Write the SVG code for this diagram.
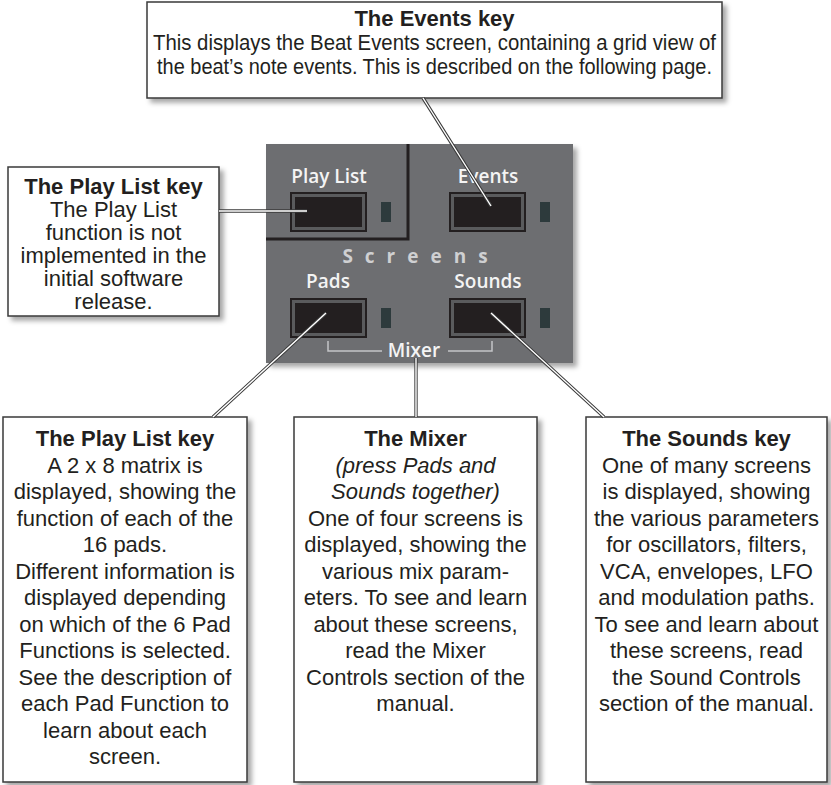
<svg xmlns="http://www.w3.org/2000/svg" width="831" height="785" viewBox="0 0 831 785">
<defs>
<filter id="sh" x="-10%" y="-10%" width="130%" height="130%">
<feDropShadow dx="4" dy="4" stdDeviation="2.5" flood-color="#000" flood-opacity="0.35"/>
</filter>
<style>
.box{fill:#fff;stroke:#3a3a3a;stroke-width:1.5;filter:url(#sh)}
.t{font-family:"Liberation Sans",Arial,sans-serif;font-size:22px;fill:#231f20;text-anchor:middle}
.b{font-weight:bold}
.i{font-style:italic}
.pl{font-family:"Open Sans","DejaVu Sans",sans-serif;font-weight:600;font-size:19px;fill:#f4f4f4;text-anchor:middle}
.btnO{fill:#231f20}
.btnM{fill:#5a5b5d}
.btnI{fill:#231f20}
.led{fill:#2d3a3c}
.cO{stroke:#3a3a3a;stroke-width:3.3;fill:none;stroke-linecap:butt}
.cI{stroke:#fff;stroke-width:1.4;fill:none;stroke-linecap:butt}
</style>
</defs>

<g id="panel">
<rect x="266" y="144" width="307" height="219" fill="#6d6e71" filter="url(#sh)"/>
<path d="M266,239 H408 V144" fill="none" stroke="#231f20" stroke-width="3"/>
<text class="pl" x="329" y="183">Play List</text>
<text class="pl" x="488" y="183">Events</text>
<text class="pl" x="328" y="288">Pads</text>
<text class="pl" x="488" y="288">Sounds</text>
<text class="pl" x="421" y="263" style="fill:#cfd0d2;font-weight:700;font-size:19px;letter-spacing:12px">Screens</text>
<text class="pl" x="414" y="357">Mixer</text>
<path d="M328,341 V351 H382 M448,351 H492 V341" fill="none" stroke="#c4c5c7" stroke-width="1.5"/>
<g id="btn-playlist">
<rect class="btnO" x="290" y="192" width="77" height="40"/>
<rect class="btnM" x="292" y="194" width="73" height="36"/>
<rect class="btnI" x="295" y="197" width="67" height="30"/>
<rect class="led" x="381" y="202" width="10" height="20"/>
</g>
<g id="btn-events">
<rect class="btnO" x="449" y="192" width="77" height="40"/>
<rect class="btnM" x="451" y="194" width="73" height="36"/>
<rect class="btnI" x="454" y="197" width="67" height="30"/>
<rect class="led" x="540" y="202" width="10" height="20"/>
</g>
<g id="btn-pads">
<rect class="btnO" x="290" y="298" width="77" height="40"/>
<rect class="btnM" x="292" y="300" width="73" height="36"/>
<rect class="btnI" x="295" y="303" width="67" height="30"/>
<rect class="led" x="381" y="308" width="10" height="20"/>
</g>
<g id="btn-sounds">
<rect class="btnO" x="449" y="298" width="77" height="40"/>
<rect class="btnM" x="451" y="300" width="73" height="36"/>
<rect class="btnI" x="454" y="303" width="67" height="30"/>
<rect class="led" x="540" y="308" width="10" height="20"/>
</g>
</g>

<g id="events-key">
<rect class="box" x="147" y="2" width="575" height="96"/>
<text class="t b" x="434.5" y="26">The Events key</text>
<text class="t" x="434.5" y="50" textLength="563" lengthAdjust="spacingAndGlyphs">This displays the Beat Events screen, containing a grid view of</text>
<text class="t" x="434.5" y="74" textLength="555" lengthAdjust="spacingAndGlyphs">the beat’s note events. This is described on the following page.</text>
</g>

<g id="playlist-key">
<rect class="box" x="8" y="167" width="211" height="149"/>
<text class="t b" x="113.5" y="194">The Play List key</text>
<text class="t" x="113.5" y="217">The Play List</text>
<text class="t" x="113.5" y="240">function is not</text>
<text class="t" x="113.5" y="263">implemented in the</text>
<text class="t" x="113.5" y="286">initial software</text>
<text class="t" x="113.5" y="309">release.</text>
</g>

<g id="pads-key">
<rect class="box" x="3" y="417" width="244" height="365"/>
<text class="t b" x="125" y="446">The Play List key</text>
<text class="t" x="125" y="472.5">A 2 x 8 matrix is</text>
<text class="t" x="125" y="499">displayed, showing the</text>
<text class="t" x="125" y="525.5">function of each of the</text>
<text class="t" x="125" y="552">16 pads.</text>
<text class="t" x="125" y="578.5">Different information is</text>
<text class="t" x="125" y="605">displayed depending</text>
<text class="t" x="125" y="631.5">on which of the 6 Pad</text>
<text class="t" x="125" y="658">Functions is selected.</text>
<text class="t" x="125" y="684.5">See the description of</text>
<text class="t" x="125" y="711">each Pad Function to</text>
<text class="t" x="125" y="737.5">learn about each</text>
<text class="t" x="125" y="764">screen.</text>
</g>

<g id="mixer">
<rect class="box" x="294" y="417" width="243" height="365"/>
<text class="t b" x="415.5" y="446">The Mixer</text>
<text class="t i" x="415.5" y="472.5">(press Pads and</text>
<text class="t i" x="415.5" y="499">Sounds together)</text>
<text class="t" x="415.5" y="525.5">One of four screens is</text>
<text class="t" x="415.5" y="552">displayed, showing the</text>
<text class="t" x="415.5" y="578.5">various mix param-</text>
<text class="t" x="415.5" y="605">eters. To see and learn</text>
<text class="t" x="415.5" y="631.5">about these screens,</text>
<text class="t" x="415.5" y="658">read the Mixer</text>
<text class="t" x="415.5" y="684.5">Controls section of the</text>
<text class="t" x="415.5" y="711">manual.</text>
</g>

<g id="sounds-key">
<rect class="box" x="586" y="417" width="241" height="365"/>
<text class="t b" x="706.5" y="446">The Sounds key</text>
<text class="t" x="706.5" y="472.5">One of many screens</text>
<text class="t" x="706.5" y="499">is displayed, showing</text>
<text class="t" x="706.5" y="525.5">the various parameters</text>
<text class="t" x="706.5" y="552">for oscillators, filters,</text>
<text class="t" x="706.5" y="578.5">VCA, envelopes, LFO</text>
<text class="t" x="706.5" y="605">and modulation paths.</text>
<text class="t" x="706.5" y="631.5">To see and learn about</text>
<text class="t" x="706.5" y="658">these screens, read</text>
<text class="t" x="706.5" y="684.5">the Sound Controls</text>
<text class="t" x="706.5" y="711">section of the manual.</text>
</g>

<g id="connectors">
<path class="cO" d="M219,211 H307 M423,98 L491,206 M326,313 L213,417 M416,358 V417 M491,313 L604,417"/>
<path class="cI" d="M219,211 H307 M423,98 L491,206 M326,313 L213,417 M416,358 V417 M491,313 L604,417"/>
</g>
</svg>
